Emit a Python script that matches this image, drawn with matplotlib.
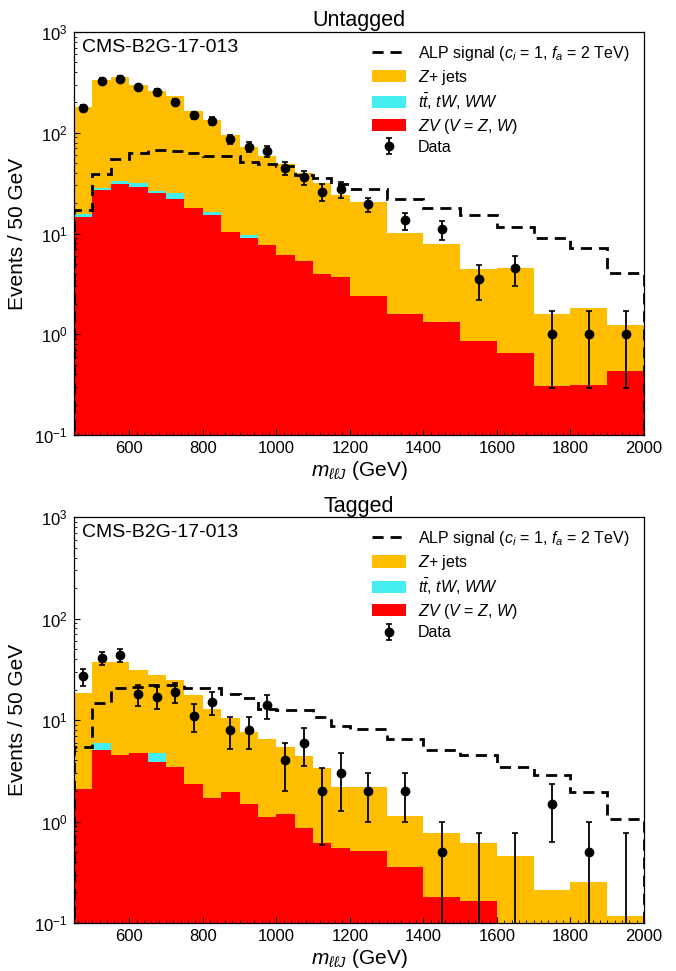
import numpy as np
import matplotlib
matplotlib.use('Agg')
import matplotlib.pyplot as plt
from matplotlib.ticker import MultipleLocator, LogLocator

plt.rcParams['font.family'] = ['Liberation Sans', 'DejaVu Sans']
plt.rcParams['mathtext.fontset'] = 'custom'
plt.rcParams['mathtext.rm'] = 'Liberation Sans'
plt.rcParams['mathtext.it'] = 'Liberation Sans:italic'
plt.rcParams['mathtext.bf'] = 'Liberation Sans:bold'

# bin edges in m_llJ (GeV): 50 GeV bins up to 1200, then 100 GeV bins
edges = np.array([450, 500, 550, 600, 650, 700, 750, 800, 850, 900, 950, 1000,
                  1050, 1100, 1150, 1200, 1300, 1400, 1500, 1600, 1700, 1800,
                  1900, 2000])
centers = np.array([475, 525, 575, 625, 675, 725, 775, 825, 875, 925, 975, 1025,
                    1075, 1125, 1175, 1250, 1350, 1450, 1550, 1650, 1750, 1850,
                    1950])

# ---- Untagged ----
untag_zv = [14.5, 27.1, 31.0, 28.8, 25.1, 22.0, 17.8, 15.3, 10.4, 9.0, 7.66,
            6.14, 5.35, 3.97, 3.68, 2.40, 1.59, 1.31, 0.865, 0.658, 0.307,
            0.312, 0.433]
untag_tt = [1.0, 1.0, 2.3, 2.7, 1.4, 3.5, 0.0, 1.0, 0.0, 0.6, 0.0, 0.0, 0.0,
            0.0, 0.0, 0.0, 0.0, 0.0, 0.0, 0.0, 0.0, 0.0, 0.0]
untag_zjets = [165.5, 305.9, 322.7, 266.5, 233.5, 206.5, 146.2, 117.7, 84.6,
               63.2, 51.8, 42.6, 34.4, 27.6, 20.4, 18.3, 8.5, 6.59, 3.56,
               3.94, 1.27, 1.51, 0.81]
untag_sig = [17.1, 38.7, 55.3, 62.6, 68.0, 66.4, 62.6, 58.9, 58.5, 50.9, 49.0,
             46.9, 38.5, 35.4, 31.0, 27.7, 22.0, 17.9, 15.1, 11.5, 9.1, 7.2, 4.04]
untag_data = [177, 329, 344, 282, 256, 204, 150, 131, 86, 73, 66, 45, 36, 26,
              27.5, 19.5, 13.5, 11, 3.5, 4.5, 1.0, 1.0, 1.0]
untag_err_lo = [13.3, 18.1, 18.5, 16.8, 16.0, 14.3, 12.2, 11.4, 9.3, 8.5, 8.1,
                6.7, 6.0, 5.1, 5.2, 3.1, 2.6, 2.35, 1.32, 1.5, 0.71, 0.71, 0.71]
untag_err_hi = untag_err_lo

# ---- Tagged ----
tag_zv = [2.1, 5.1, 4.5, 4.7, 3.9, 3.45, 2.32, 1.69, 1.94, 1.48, 1.1, 1.2,
          0.857, 0.61, 0.544, 0.51, 0.359, 0.18, 0.165, 0.05, 0.05, 0.05, 0.05]
tag_tt = [0.0, 0.9, 0.0, 0.0, 0.8, 0.0, 0.0, 0.0, 0.0, 0.0, 0.0, 0.0,
          0.0, 0.0, 0.0, 0.0, 0.0, 0.0, 0.0, 0.0, 0.0, 0.0, 0.0]
tag_zjets = [16.5, 31.0, 32.5, 26.4, 23.2, 21.35, 15.18, 11.31, 8.66, 6.19,
             5.36, 4.26, 3.55, 2.74, 1.656, 1.69, 0.771, 0.6, 0.455, 0.407,
             0.161, 0.205, 0.067]
tag_sig = [5.46, 14.6, 20.5, 21.3, 22.0, 22.2, 20.5, 20.5, 17.9, 16.6, 13.0,
           12.5, 12.6, 10.8, 8.8, 8.1, 6.46, 5.06, 4.52, 3.47, 2.87, 1.94, 1.06]
tag_data = [27, 41, 44, 18, 17, 19, 11, 15, 8, 8, 14, 4, 6, 2, 3, 2, 2, 0.5,
            0, 0, 1.5, 0.5, 0]
tag_err_lo = [5.2, 6.4, 6.6, 4.2, 4.1, 4.4, 3.3, 3.9, 2.8, 2.8, 3.7, 2.0, 2.45,
              1.41, 1.73, 1.0, 1.0, 0.5, 0.0, 0.0, 0.87, 0.5, 0.0]
tag_err_hi = [5.2, 6.4, 6.6, 4.2, 4.1, 4.4, 3.3, 3.9, 2.8, 2.8, 3.7, 2.0, 2.45,
              1.41, 1.73, 1.0, 1.0, 0.5, 0.78, 0.78, 0.87, 0.5, 0.78]

c_zjets = '#ffbd00'
c_tt = '#44eeee'
c_zv = '#ff0000'


def draw(ax, zv, tt, zj, sig, data, elo, ehi, title):
    zv = np.array(zv)
    tt = np.array(tt)
    zj = np.array(zj)
    floor = 1e-3
    s1 = zv
    s2 = zv + tt
    s3 = zv + tt + zj
    ax.stairs(s3, edges, baseline=s2, fill=True, color=c_zjets, lw=0, label=r'$Z$+ jets')
    ax.stairs(s2, edges, baseline=s1, fill=True, color=c_tt, lw=0,
              label=r'$t\bar{t}$, $tW$, $WW$')
    ax.stairs(s1, edges, baseline=floor, fill=True, color=c_zv, lw=0,
              label=r'$ZV$ ($V$ = $Z$, $W$)')
    ax.stairs(sig, edges, color='black', ls=(0, (4, 2.5)), lw=2,
              label=r'ALP signal ($c_i$ = 1, $f_a$ = 2 TeV)')
    ax.errorbar(centers, data, yerr=[elo, ehi], fmt='o', color='black',
                ms=6, lw=1.3, capsize=2, capthick=1.2, label='Data')

    ax.set_yscale('log')
    ax.set_xlim(450, 2000)
    ax.set_ylim(0.1, 1000)
    ax.xaxis.set_major_locator(MultipleLocator(200))
    ax.xaxis.set_minor_locator(MultipleLocator(20))
    ax.yaxis.set_major_locator(LogLocator(base=10, numticks=10))
    ax.yaxis.set_minor_locator(LogLocator(base=10, subs=np.arange(2, 10), numticks=20))
    ax.tick_params(which='both', direction='in', top=False, right=False,
                   labelsize=12, pad=4.5)
    ax.tick_params(which='major', length=4.5, width=0.8)
    ax.tick_params(which='minor', length=2.2, width=0.6)
    for sp in ax.spines.values():
        sp.set_linewidth(0.9)

    ax.set_xlabel(r'$m_{\ell\ell J}$ (GeV)', fontsize=15, labelpad=2)
    ax.set_ylabel('Events / 50 GeV', fontsize=15, labelpad=5)
    ax.set_title(title, fontsize=15.5, pad=4)
    ax.text(0.014, 0.962, 'CMS-B2G-17-013', transform=ax.transAxes,
            fontsize=14, va='center', ha='left')

    h, l = ax.get_legend_handles_labels()
    order = [3, 0, 1, 2, 4]
    ax.legend([h[i] for i in order], [l[i] for i in order], loc='upper left',
              bbox_to_anchor=(0.509, 0.99), frameon=False, fontsize=11.5,
              borderpad=0, handlelength=2.1, handleheight=0.8,
              handletextpad=0.75, labelspacing=0.3)


fig = plt.figure(figsize=(6.76, 9.71), dpi=100)
ax1 = fig.add_axes([0.1095, 0.552, 0.8432, 0.415])
ax2 = fig.add_axes([0.1095, 0.0494, 0.8432, 0.418])

draw(ax1, untag_zv, untag_tt, untag_zjets, untag_sig, untag_data,
     untag_err_lo, untag_err_hi, 'Untagged')
draw(ax2, tag_zv, tag_tt, tag_zjets, tag_sig, tag_data,
     tag_err_lo, tag_err_hi, 'Tagged')

fig.savefig('out.png', dpi=100)
